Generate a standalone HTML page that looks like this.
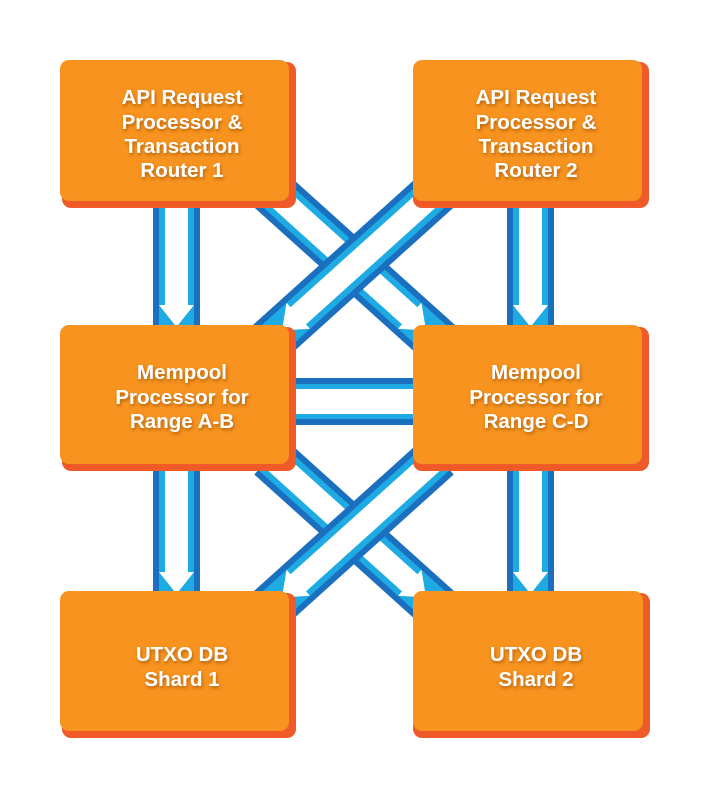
<!DOCTYPE html>
<html><head><meta charset="utf-8"><style>
html,body{margin:0;padding:0;background:#fff;}
svg{display:block;}
text{font-family:"Liberation Sans",sans-serif;font-weight:bold;font-size:20.5px;fill:#fff;text-anchor:middle;}
</style></head><body>
<svg width="709" height="798" viewBox="0 0 709 798" xmlns="http://www.w3.org/2000/svg">
<defs>
<filter id="ts" x="-20%" y="-20%" width="140%" height="140%"><feDropShadow dx="1" dy="2" stdDeviation="1.5" flood-color="#7a3a00" flood-opacity="0.55"/></filter>
</defs>
<g>
<g transform="translate(176.5,200) rotate(90)">
<rect x="0" y="-23.5" width="127" height="47" fill="#1b6fbf"/><rect x="0" y="-17.5" width="127" height="35" fill="#1eaae2"/>
<polygon points="0,-11.5 105,-11.5 105,-17.5 127,0 105,17.5 105,11.5 0,11.5" fill="#fff"/></g>
<g transform="translate(530.5,200) rotate(90)">
<rect x="0" y="-23.5" width="127" height="47" fill="#1b6fbf"/><rect x="0" y="-17.5" width="127" height="35" fill="#1eaae2"/>
<polygon points="0,-11.5 105,-11.5 105,-17.5 127,0 105,17.5 105,11.5 0,11.5" fill="#fff"/></g>
<g transform="translate(176.5,467) rotate(90)">
<rect x="0" y="-23.5" width="127" height="47" fill="#1b6fbf"/><rect x="0" y="-17.5" width="127" height="35" fill="#1eaae2"/>
<polygon points="0,-11.5 105,-11.5 105,-17.5 127,0 105,17.5 105,11.5 0,11.5" fill="#fff"/></g>
<g transform="translate(530.5,467) rotate(90)">
<rect x="0" y="-23.5" width="127" height="47" fill="#1b6fbf"/><rect x="0" y="-17.5" width="127" height="35" fill="#1eaae2"/>
<polygon points="0,-11.5 105,-11.5 105,-17.5 127,0 105,17.5 105,11.5 0,11.5" fill="#fff"/></g>

<g transform="translate(270,190) rotate(42)">
<rect x="0" y="-23.5" width="235" height="47" fill="#1b6fbf"/><rect x="0" y="-17.5" width="235" height="35" fill="#1eaae2"/>
<polygon points="0,-11.5 188,-11.5 188,-17.5 210,0 188,17.5 188,11.5 0,11.5" fill="#fff"/></g>
<g transform="translate(438,190) rotate(138)">
<rect x="0" y="-23.5" width="235" height="47" fill="#1b6fbf"/><rect x="0" y="-17.5" width="235" height="35" fill="#1eaae2"/>
<polygon points="0,-11.5 188,-11.5 188,-17.5 210,0 188,17.5 188,11.5 0,11.5" fill="#fff"/></g>

<g transform="translate(270,457) rotate(42)">
<rect x="0" y="-23.5" width="235" height="47" fill="#1b6fbf"/><rect x="0" y="-17.5" width="235" height="35" fill="#1eaae2"/>
<polygon points="0,-11.5 188,-11.5 188,-17.5 210,0 188,17.5 188,11.5 0,11.5" fill="#fff"/></g>
<g transform="translate(438,457) rotate(138)">
<rect x="0" y="-23.5" width="235" height="47" fill="#1b6fbf"/><rect x="0" y="-17.5" width="235" height="35" fill="#1eaae2"/>
<polygon points="0,-11.5 188,-11.5 188,-17.5 210,0 188,17.5 188,11.5 0,11.5" fill="#fff"/></g>

<rect x="285" y="378" width="140" height="47" fill="#1b6fbf"/>
<rect x="285" y="384" width="140" height="35" fill="#1eaae2"/>
<rect x="285" y="389" width="140" height="25" fill="#fff"/>
</g>
<g>
<rect x="62" y="62" width="234" height="146" rx="9" fill="#ef5a28"/>
<rect x="60" y="60" width="229" height="141" rx="9" fill="#f7931e"/>
<rect x="413" y="62" width="236" height="146" rx="9" fill="#ef5a28"/>
<rect x="413" y="60" width="229" height="141" rx="9" fill="#f7931e"/>
<rect x="62" y="327" width="234" height="144" rx="9" fill="#ef5a28"/>
<rect x="60" y="325" width="229" height="139" rx="9" fill="#f7931e"/>
<rect x="413" y="327" width="236" height="144" rx="9" fill="#ef5a28"/>
<rect x="413" y="325" width="229" height="139" rx="9" fill="#f7931e"/>
<rect x="62" y="593" width="234" height="145" rx="9" fill="#ef5a28"/>
<rect x="60" y="591" width="229" height="140" rx="9" fill="#f7931e"/>
<rect x="413" y="593" width="237" height="145" rx="9" fill="#ef5a28"/>
<rect x="413" y="591" width="230" height="140" rx="9" fill="#f7931e"/>
</g>
<g filter="url(#ts)">
<text x="182" y="104">API Request</text>
<text x="182" y="129">Processor &amp;</text>
<text x="182" y="153">Transaction</text>
<text x="182" y="177">Router 1</text>
<text x="536" y="104">API Request</text>
<text x="536" y="129">Processor &amp;</text>
<text x="536" y="153">Transaction</text>
<text x="536" y="177">Router 2</text>
<text x="182" y="379">Mempool</text>
<text x="182" y="404">Processor for</text>
<text x="182" y="428">Range A-B</text>
<text x="536" y="379">Mempool</text>
<text x="536" y="404">Processor for</text>
<text x="536" y="428">Range C-D</text>
<text x="182" y="661">UTXO DB</text>
<text x="182" y="686">Shard 1</text>
<text x="536" y="661">UTXO DB</text>
<text x="536" y="686">Shard 2</text>
</g>
</svg>
</body></html>
